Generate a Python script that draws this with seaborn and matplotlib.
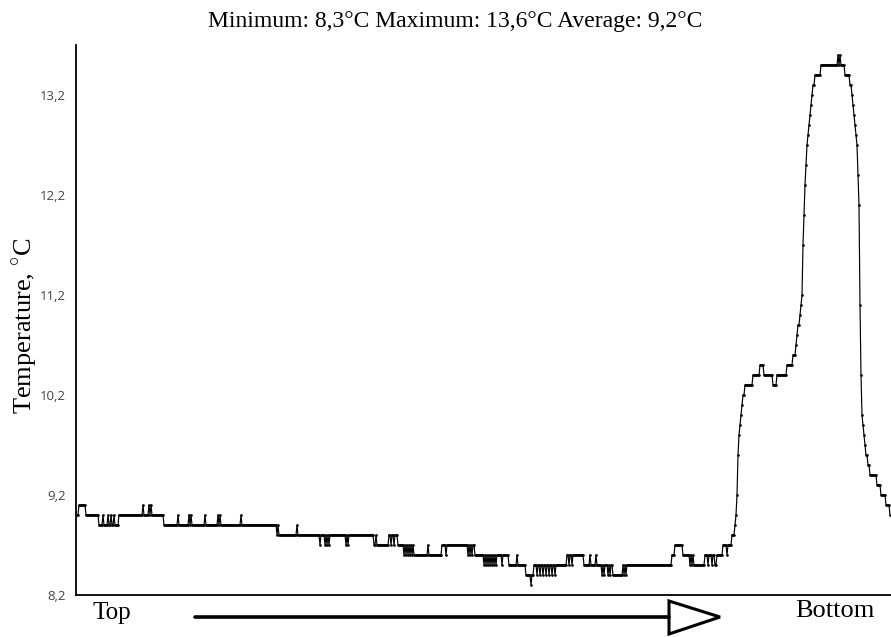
import numpy as np
import pandas as pd
import matplotlib
matplotlib.use("Agg")
import matplotlib.pyplot as plt
import seaborn as sns
from matplotlib.patches import Polygon
from matplotlib.lines import Line2D

# Temperature log: reading number at which each constant-temperature run begins
run_start = [
    0, 2, 9, 22, 26, 27, 31, 32, 34, 35, 37, 38, 42, 66, 67, 72, 73, 74, 75,
    87, 101, 102, 112, 113, 114, 115, 128, 129, 141, 142, 143, 144, 164, 165,
    200, 201, 202, 220, 221, 243, 244, 248, 249, 250, 251, 252, 253, 269, 270,
    271, 272, 297, 299, 300, 312, 314, 315, 317, 318, 321, 327, 328, 329, 330,
    331, 332, 333, 334, 335, 336, 337, 351, 352, 365, 369, 370, 391, 392, 393,
    394, 395, 396, 398, 407, 408, 409, 410, 411, 412, 413, 414, 415, 416, 417,
    418, 419, 420, 425, 426, 432, 440, 441, 449, 454, 455, 457, 460, 461, 463,
    464, 466, 467, 469, 470, 472, 473, 475, 476, 478, 479, 490, 492, 493, 495,
    496, 507, 513, 514, 519, 520, 525, 526, 527, 528, 531, 532, 533, 534, 536,
    546, 547, 548, 549, 550, 595, 598, 606, 613, 614, 615, 616, 617, 628, 631,
    632, 635, 636, 638, 640, 646, 650, 651, 655, 658, 659, 660, 661, 662, 663,
    664, 665, 666, 668, 676, 683, 687, 696, 700, 710, 716, 719, 720, 721, 723,
    724, 725, 726, 727, 728, 729, 730, 731, 732, 733, 734, 735, 736, 738, 744,
    761, 762, 763, 764, 768, 773, 775, 776, 777, 778, 779, 780, 781, 782, 783,
    784, 785, 786, 787, 788, 789, 791, 793, 800, 804, 809, 813,
]
# Temperature (°C) held during each run
run_temp = [
    9.0, 9.1, 9.0, 8.9, 9.0, 8.9, 9.0, 8.9, 9.0, 8.9, 9.0, 8.9, 9.0, 9.1, 9.0, 9.1, 9.0, 9.1, 9.0,
    8.9, 9.0, 8.9, 9.0, 8.9, 9.0, 8.9, 9.0, 8.9, 9.0, 8.9, 9.0, 8.9, 9.0, 8.9,
    8.8, 8.9, 8.8, 8.9, 8.8, 8.7, 8.8, 8.7, 8.8, 8.7, 8.8, 8.7, 8.8, 8.7, 8.8,
    8.7, 8.8, 8.7, 8.8, 8.7, 8.8, 8.7, 8.8, 8.7, 8.8, 8.7, 8.6, 8.7, 8.6, 8.7,
    8.6, 8.7, 8.6, 8.7, 8.6, 8.7, 8.6, 8.7, 8.6, 8.7, 8.6, 8.7, 8.6, 8.7, 8.6,
    8.7, 8.6, 8.7, 8.6, 8.5, 8.6, 8.5, 8.6, 8.5, 8.6, 8.5, 8.6, 8.5, 8.6, 8.5,
    8.6, 8.5, 8.6, 8.5, 8.6, 8.5, 8.6, 8.5, 8.4, 8.3, 8.4, 8.5, 8.4, 8.5, 8.4,
    8.5, 8.4, 8.5, 8.4, 8.5, 8.4, 8.5, 8.4, 8.5, 8.4, 8.5, 8.6, 8.5, 8.6, 8.5,
    8.6, 8.5, 8.6, 8.5, 8.6, 8.5, 8.4, 8.5, 8.4, 8.5, 8.4, 8.5, 8.4, 8.5, 8.4,
    8.5, 8.4, 8.5, 8.4, 8.5, 8.6, 8.7, 8.6, 8.5, 8.6, 8.5, 8.6, 8.5, 8.6, 8.5,
    8.6, 8.5, 8.6, 8.5, 8.6, 8.7, 8.6, 8.7, 8.8, 8.9, 9.0, 9.2, 9.6, 9.8, 9.9,
    10.0, 10.1, 10.2, 10.3, 10.4, 10.5, 10.4, 10.3, 10.4, 10.5, 10.6, 10.7, 10.8, 10.9, 11.0,
    11.1, 11.2, 11.7, 12.0, 12.3, 12.5, 12.7, 12.8, 12.9, 13.0, 13.1, 13.2, 13.3, 13.4, 13.5,
    13.6, 13.5, 13.6, 13.5, 13.4, 13.3, 13.2, 13.1, 13.0, 12.9, 12.8, 12.7, 12.4, 12.1, 11.1,
    10.4, 10.0, 9.9, 9.8, 9.7, 9.6, 9.5, 9.4, 9.3, 9.2, 9.1, 9.0,
]
n_readings = 814

y_ticks = [8.2, 9.2, 10.2, 11.2, 12.2, 13.2]
y_tick_labels = ["8,2", "9,2", "10,2", "11,2", "12,2", "13,2"]
title_text = "Minimum: 8,3°C Maximum: 13,6°C Average: 9,2°C"
y_label = "Temperature, $^{\\circ}$C"
start_label = "Top"
end_label = "Bottom"

run_len = np.diff(run_start + [n_readings])
df = pd.DataFrame({
    "reading": np.arange(n_readings),
    "temperature": np.repeat(run_temp, run_len),
})

sns.set_theme(style="white")
plt.rcParams["font.family"] = ["Liberation Serif", "DejaVu Serif"]
plt.rcParams["mathtext.fontset"] = "custom"
plt.rcParams["mathtext.rm"] = "Liberation Serif"

W, H = 891, 637
fig = plt.figure(figsize=(W / 100, H / 100), dpi=100)
fig.patch.set_facecolor("white")
ax = fig.add_axes([76 / W, (H - 595) / H, 815 / W, 550 / H])

sns.lineplot(
    data=df, x="reading", y="temperature", ax=ax, color="black",
    linewidth=0.85, marker="o", markersize=1.9, markeredgewidth=0,
    errorbar=None,
)

ax.set_xlim(-1, n_readings)
ax.set_ylim(8.2, 13.7)
ax.set_xticks([])
ax.set_yticks(y_ticks)
ax.set_yticklabels(y_tick_labels, fontsize=9.5, color="#444444",
                   family=["Open Sans", "DejaVu Sans"])
ax.tick_params(axis="y", length=0, pad=7)
ax.set_xlabel("")
ax.set_ylabel(y_label, fontsize=19, color="black")
ax.yaxis.set_label_coords(-36 / 815, 0.49)

sns.despine(ax=ax, top=True, right=True)
for side in ("left", "bottom"):
    ax.spines[side].set_color("black")
    ax.spines[side].set_linewidth(1.3)
ax.set_facecolor("white")

fig.text(455 / W, 1 - 21 / H, title_text, ha="center", va="center",
         fontsize=17, color="black")

# direction arrow along the profile
fig.text(112 / W, 1 - 613 / H, start_label, ha="center", va="center",
         fontsize=18, color="black")
fig.text(835 / W, 1 - 611 / H, end_label, ha="center", va="center",
         fontsize=19, color="black")
shaft_y = 1 - 617 / H
fig.add_artist(Line2D([195 / W, 669 / W], [shaft_y, shaft_y],
                      transform=fig.transFigure, color="black", linewidth=2.6))
head = Polygon(
    [[669 / W, 1 - 601 / H], [720 / W, shaft_y], [669 / W, 1 - 634 / H]],
    closed=True, transform=fig.transFigure, facecolor="white",
    edgecolor="black", linewidth=2.2,
)
fig.add_artist(head)

fig.savefig("out.png", dpi=100, facecolor="white")
